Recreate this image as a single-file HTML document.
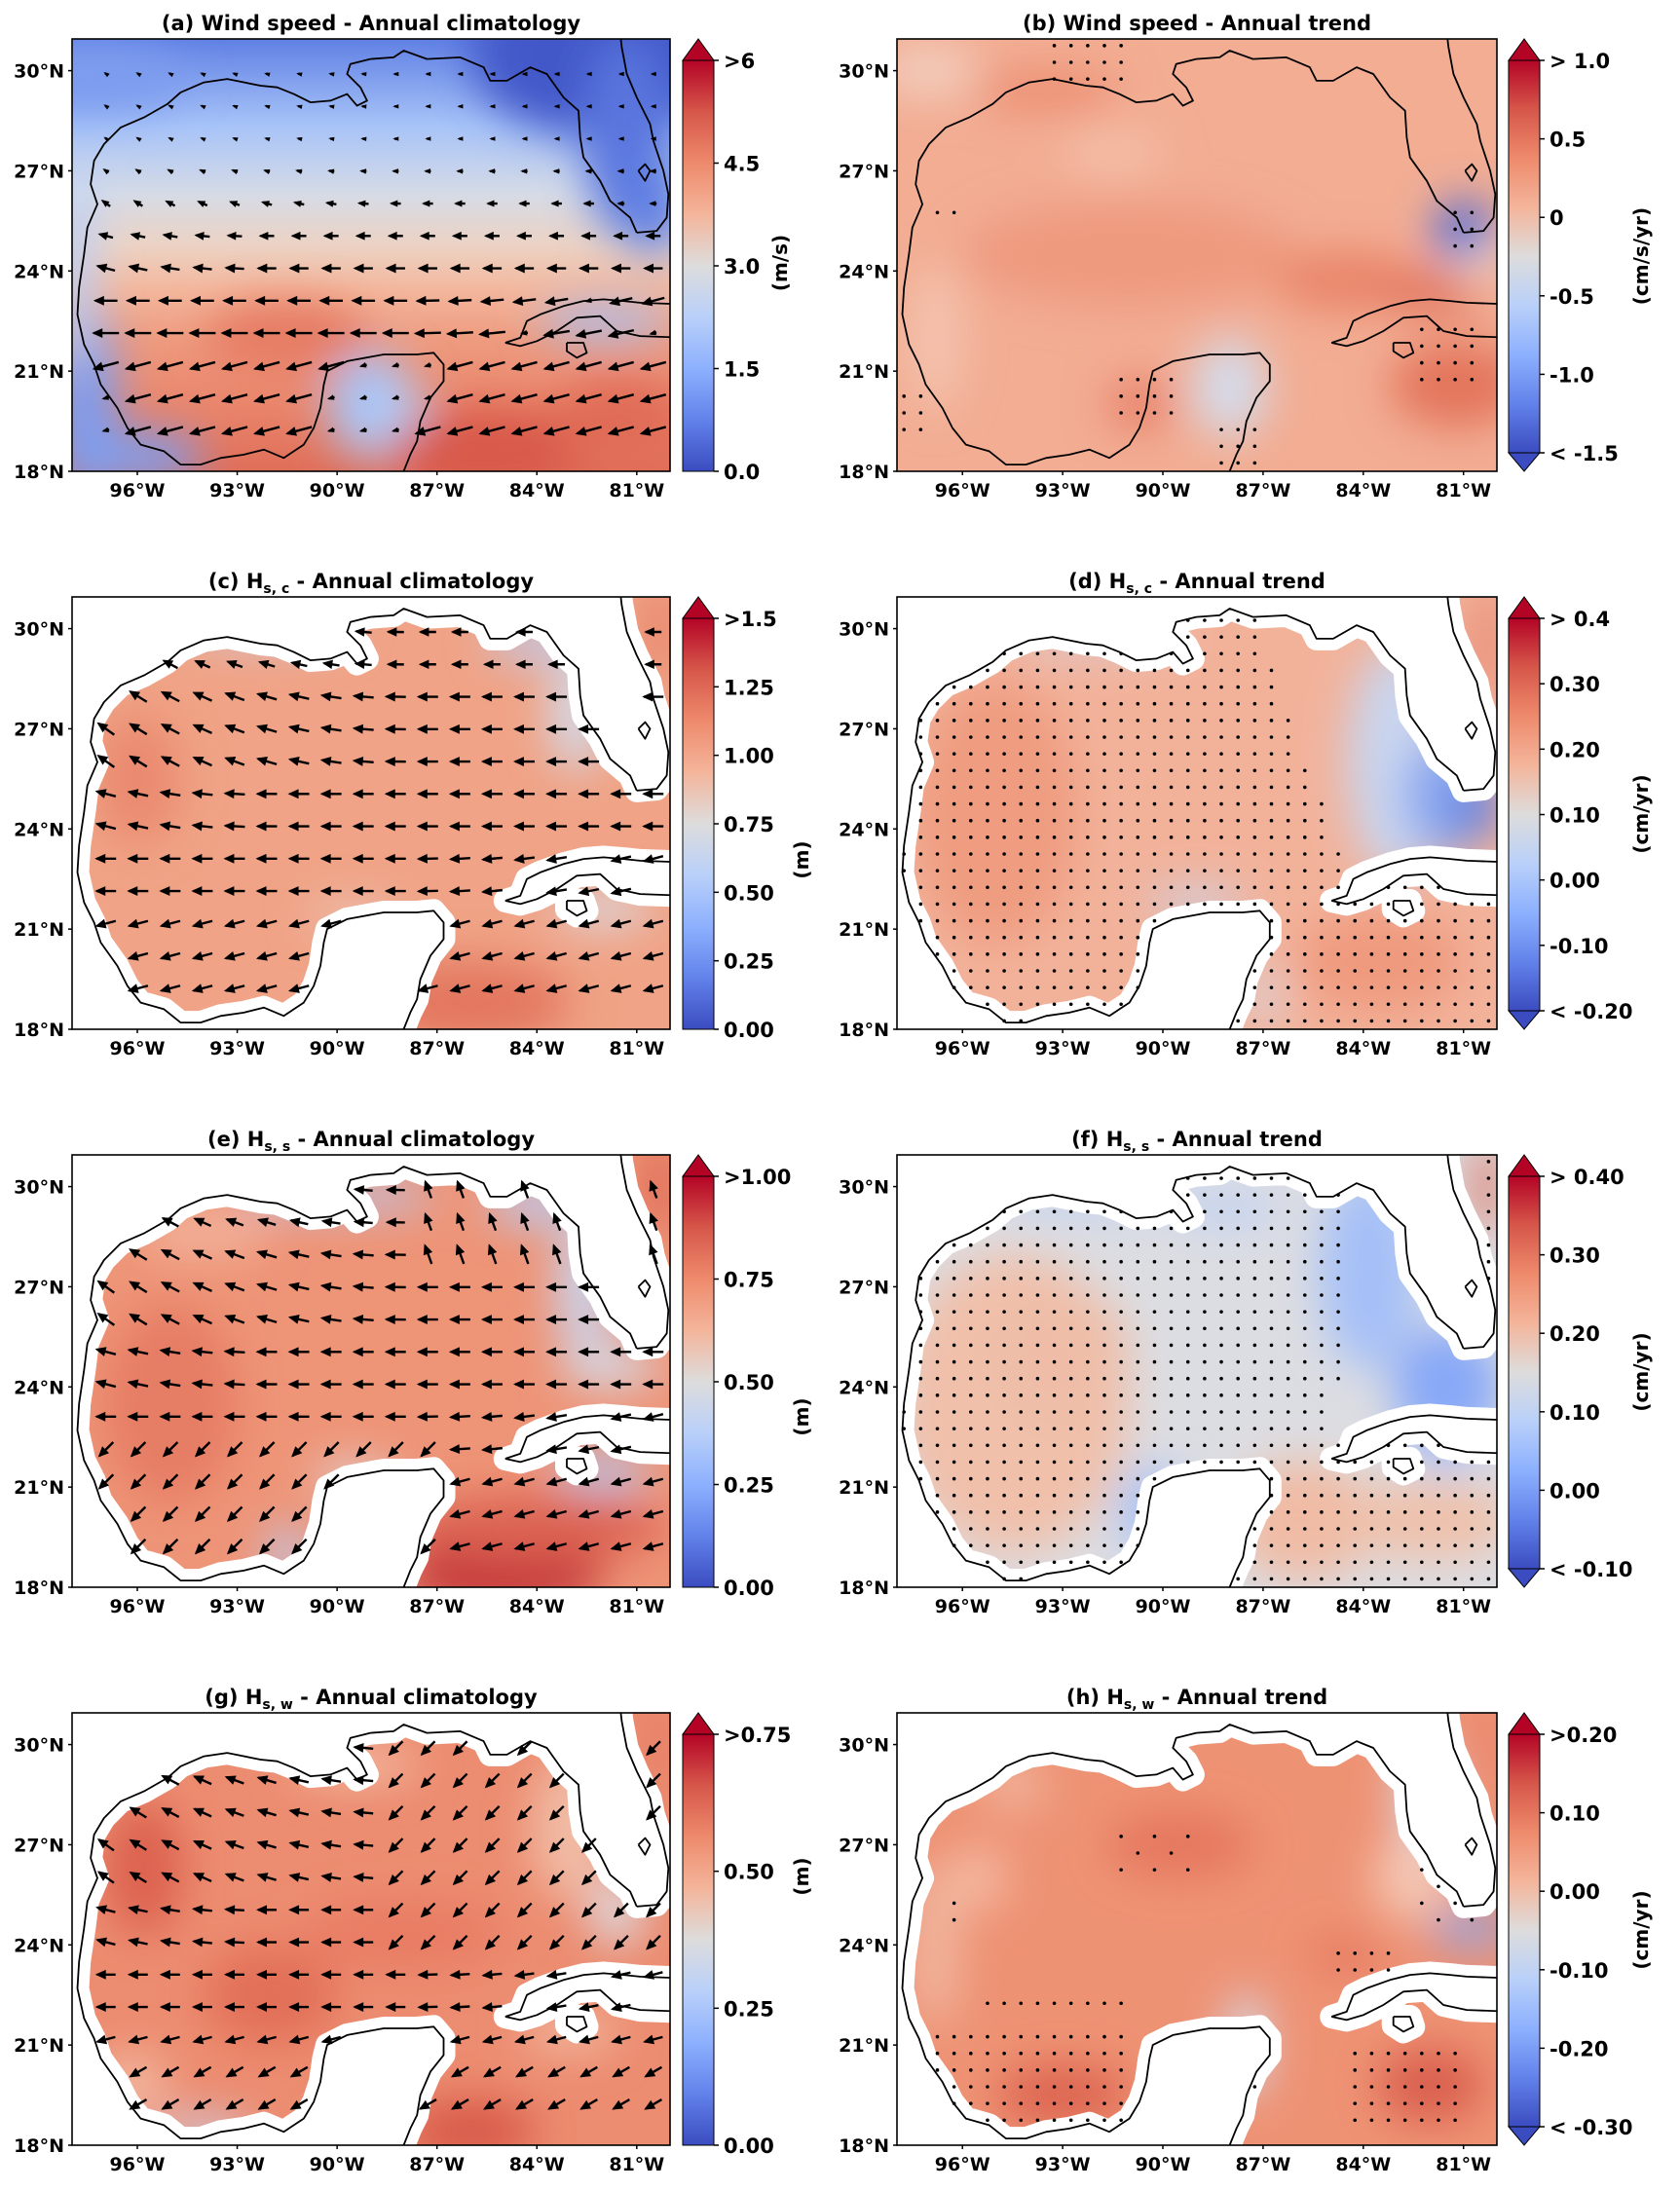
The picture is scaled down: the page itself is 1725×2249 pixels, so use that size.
<!DOCTYPE html>
<html><head><meta charset="utf-8"><style>
html,body{margin:0;padding:0;background:#fff}
svg text{font-family:"DejaVu Sans","Liberation Sans",sans-serif;font-weight:bold;fill:#000}
</style></head><body>
<svg id="s" xmlns="http://www.w3.org/2000/svg" width="1725" height="2244" viewBox="0 0 1725 2244">
<defs>
<filter id="bl" x="-20%" y="-20%" width="140%" height="140%"><feGaussianBlur stdDeviation="22"/></filter>
<linearGradient id="cw" x1="0" y1="0" x2="0" y2="1">
<stop offset="0" stop-color="#b40426"/><stop offset="0.125" stop-color="#d6574a"/><stop offset="0.25" stop-color="#ee8a6c"/><stop offset="0.375" stop-color="#f4b59b"/><stop offset="0.5" stop-color="#dddcdc"/><stop offset="0.625" stop-color="#b9d0f9"/><stop offset="0.75" stop-color="#8db0fe"/><stop offset="0.875" stop-color="#6282ea"/><stop offset="1" stop-color="#3b4cc0"/>
</linearGradient>
<linearGradient id="ga" x1="0" y1="0" x2="0" y2="1">
<stop offset="0" stop-color="#6080e4"/><stop offset="0.2" stop-color="#a7c3f8"/><stop offset="0.36" stop-color="#d6dbe6"/><stop offset="0.48" stop-color="#ecd2c3"/><stop offset="0.58" stop-color="#f3b79d"/><stop offset="0.7" stop-color="#ee9a7e"/><stop offset="0.85" stop-color="#e9856b"/><stop offset="1" stop-color="#e06e58"/>
</linearGradient>
</defs>
<g id="root"></g>
</svg>
<script>
var NS="http://www.w3.org/2000/svg";
var root=document.getElementById('root');
function el(t,a,p){var e=document.createElementNS(NS,t);for(var k in a)e.setAttribute(k,a[k]);(p||root).appendChild(e);return e;}
var LON0=-97.96,LON1=-80.0,LAT0=18,LAT1=30.95,H=444;
var MAIN=[[-81.0,25.15],[-81.2,25.6],[-81.8,26.1],[-82.1,26.7],[-82.6,27.4],[-82.7,28.0],[-82.75,28.8],[-83.2,29.2],[-83.7,29.9],[-84.2,30.1],[-84.9,29.7],[-85.4,29.7],[-85.6,30.1],[-86.3,30.4],[-87.3,30.35],[-88.0,30.6],[-88.3,30.4],[-89.0,30.35],[-89.6,30.2],[-89.7,29.9],[-89.3,29.5],[-89.1,29.1],[-89.4,28.95],[-89.7,29.3],[-90.2,29.1],[-90.8,29.05],[-91.3,29.3],[-91.8,29.5],[-92.3,29.55],[-93.3,29.75],[-94.0,29.65],[-94.7,29.35],[-95.1,29.0],[-95.8,28.6],[-96.5,28.3],[-97.0,27.8],[-97.3,27.3],[-97.4,26.6],[-97.2,26.0],[-97.5,25.3],[-97.6,24.5],[-97.75,23.5],[-97.8,22.7],[-97.6,21.8],[-97.3,21.2],[-97.1,20.6],[-96.6,19.9],[-96.3,19.3],[-95.9,18.8],[-95.2,18.6],[-94.7,18.2],[-94.1,18.2],[-93.5,18.4],[-92.8,18.5],[-92.2,18.65],[-91.6,18.4],[-91.3,18.6],[-91.0,18.8],[-90.7,19.3],[-90.5,19.9],[-90.4,20.6],[-90.3,21.0],[-89.7,21.3],[-88.6,21.5],[-87.6,21.5],[-87.1,21.55],[-86.8,21.2],[-86.8,20.7],[-87.2,20.2],[-87.5,19.5],[-87.6,18.9],[-87.8,18.5],[-88.0,18.0],[-88.2,17.5],[-99,17.5],[-99,32],[-81.6,32],[-81.45,30.7],[-81.3,29.9],[-81.0,29.2],[-80.6,28.4],[-80.5,27.9],[-80.2,27.0],[-80.05,26.3],[-80.1,25.6],[-80.4,25.2],[-81.0,25.15]];
var CUBA=[[-84.95,21.85],[-84.5,22.0],[-84.3,22.5],[-83.9,22.7],[-83.2,22.95],[-82.6,23.1],[-82.0,23.15],[-81.4,23.1],[-80.9,23.05],[-79.5,23.0],[-79.5,22.0],[-80.9,22.05],[-81.6,22.2],[-82.1,22.65],[-82.8,22.6],[-83.4,22.2],[-84.0,21.9],[-84.5,21.75],[-84.95,21.85]];
var YOUTH=[[-83.1,21.85],[-82.6,21.85],[-82.5,21.55],[-82.8,21.4],[-83.1,21.6],[-83.1,21.85]];
var OKEE=[[-80.95,27.0],[-80.75,27.2],[-80.6,27.0],[-80.75,26.7],[-80.95,27.0]];
function inPoly(p,x,y){var c=false;for(var i=0,j=p.length-1;i<p.length;j=i++){var xi=p[i][0],yi=p[i][1],xj=p[j][0],yj=p[j][1];if(((yi>y)!=(yj>y))&&(x<(xj-xi)*(y-yi)/(yj-yi)+xi))c=!c;}return c;}
function ocean(lo,la){return !inPoly(MAIN,lo,la)&&!inPoly(CUBA,lo,la)&&!inPoly(YOUTH,lo,la);}
function mk(x0,w,T){return function(lo,la){return [x0+(lo-LON0)/(LON1-LON0)*w,T+(LAT1-la)/(LAT1-LAT0)*H];};}
function pathOf(P,pts,close){var d='';pts.forEach(function(q,i){var r=P(q[0],q[1]);d+=(i?'L':'M')+r[0].toFixed(1)+','+r[1].toFixed(1);});return d+(close?'Z':'');}
var cid=0;
function panel(o){
  var x0=o.x0,w=o.w,T=o.T,P=mk(x0,w,T);cid++;
  var cp=el('clipPath',{id:'c'+cid});el('rect',{x:x0,y:T,width:w,height:H},cp);
  var g=el('g',{'clip-path':'url(#c'+cid+')'});
  el('rect',{x:x0,y:T,width:w,height:H,fill:o.base},g);
  var f=el('g',{filter:'url(#bl)'},g);
  o.blobs.forEach(function(b){var c=P(b[0],b[1]);var sx=w/(LON1-LON0),sy=H/(LAT1-LAT0);el('ellipse',{cx:c[0],cy:c[1],rx:b[2]*sx,ry:b[3]*sy,fill:b[4],'fill-opacity':b[5]||1},f);});
  if(o.mask){
    [MAIN,CUBA,YOUTH].forEach(function(p){el('path',{d:pathOf(P,p,true),fill:'#fff',stroke:'#fff','stroke-width':24,'stroke-linejoin':'round'},g);});
  }
  if(o.dot){for(var lo=-97.75;lo<-80.0;lo+=0.5)for(var la=18.25;la<30.9;la+=0.5){if(o.dot(lo,la)&&(!o.mask||ocean(lo,la))){var c=P(lo,la);el('circle',{cx:c[0],cy:c[1],r:1.8,fill:'#000'},g);}}}
  if(o.arrow){for(var i=0;i<18;i++)for(var j=0;j<12;j++){var lo=-96.93+i*0.967,la=29.9-j*0.97;var oc=ocean(lo,la);if(o.mask&&!oc)continue;var r=o.arrow(lo,la,oc);if(!r)continue;var c=P(lo,la);var L=r[0],a=r[1]*Math.PI/180;var dx=Math.cos(a)*L,dy=Math.sin(a)*L;
    var hx=c[0]+dx/2,hy=c[1]+dy/2,tx=c[0]-dx/2,ty=c[1]-dy/2;
    el('line',{x1:tx,y1:ty,x2:hx,y2:hy,stroke:'#000','stroke-width':2.4},g);
    var hl=Math.min(9,3+L*0.35),hw=hl*0.55;var ux=Math.cos(a),uy=Math.sin(a);
    el('polygon',{points:(hx+ux*2)+','+(hy+uy*2)+' '+(hx-ux*hl-uy*hw)+','+(hy-uy*hl+ux*hw)+' '+(hx-ux*hl+uy*hw)+','+(hy-uy*hl-ux*hw),fill:'#000'},g);}}
  [MAIN,CUBA,YOUTH,OKEE].forEach(function(p){el('path',{d:pathOf(P,p,false),fill:'none',stroke:'#000','stroke-width':1.8,'stroke-linejoin':'round'},g);});
  el('rect',{x:x0,y:T,width:w,height:H,fill:'none',stroke:'#000','stroke-width':1.6});
  [30,27,24,21,18].forEach(function(la){var c=P(LON0,la);var t=el('text',{x:x0-8,y:c[1]+7,'font-size':19,'text-anchor':'end'});t.textContent=la+'°N';el('line',{x1:x0-4,y1:c[1],x2:x0,y2:c[1],stroke:'#000','stroke-width':1.5});});
  [96,93,90,87,84,81].forEach(function(lo){var c=P(-lo,LAT0);var t=el('text',{x:c[0],y:T+H+26,'font-size':19,'text-anchor':'middle'});t.textContent=lo+'°W';el('line',{x1:c[0],y1:T+H,x2:c[0],y2:T+H+4,stroke:'#000','stroke-width':1.5});});
  var tt=el('text',{x:x0+w/2,y:T-9,'font-size':21,'text-anchor':'middle'});
  tt.appendChild(document.createTextNode(o.t1));
  if(o.sub){var s=el('tspan',{'font-size':14,dy:5},tt);s.textContent=o.sub;var r2=el('tspan',{dy:-5},tt);r2.textContent=o.t2;}
  var cx=o.cbx,cw=32,top=T+22,bot=o.both?T+425:T+H;
  el('rect',{x:cx,y:top,width:cw,height:bot-top,fill:'url(#cw)'});
  el('polygon',{points:cx+','+top+' '+(cx+cw/2)+','+T+' '+(cx+cw)+','+top,fill:'#b40426',stroke:'#000','stroke-width':1});
  if(o.both)el('polygon',{points:cx+','+bot+' '+(cx+cw/2)+','+(T+H)+' '+(cx+cw)+','+bot,fill:'#3b4cc0',stroke:'#000','stroke-width':1});
  el('rect',{x:cx,y:top,width:cw,height:bot-top,fill:'none',stroke:'#000','stroke-width':1});
  var n=o.labs.length-1;
  o.labs.forEach(function(l,k){var yy=top+(bot-top)*k/n;el('line',{x1:cx+cw,y1:yy,x2:cx+cw+5,y2:yy,stroke:'#000','stroke-width':1.5});var t=el('text',{x:cx+cw+10,y:yy+8,'font-size':21});t.textContent=l;});
  var ux2=o.ux,uy2=T+o.uy;var u=el('text',{x:ux2,y:uy2,'font-size':20,'text-anchor':'middle',transform:'rotate(-90 '+ux2+' '+uy2+')'});u.textContent=o.unit;
}
function clamp(v,a,b){return Math.max(a,Math.min(b,v));}
function dirW(lo,la){if(la>26)return 180+clamp((-88-lo)*4,0,38);if(la>23.5)return 180+clamp((-92-lo)*3,0,15);if(la>21.5)return 180-clamp((lo+88)*2,0,15);return 180-15;}
var L0=74,W0=614,R0=921,W1=616,Ts=[40,613,1186,1759];
var CL=701,CR=1549;
panel({x0:L0,w:W0,T:Ts[0],base:'url(#ga)',cbx:CL,both:false,labs:['>6','4.5','3.0','1.5','0.0'],unit:'(m/s)',ux:808,uy:230,t1:'(a) Wind speed - Annual climatology',
 blobs:[[-82,30.5,4,2.5,'#4358c9'],[-81.3,28,1.3,3,'#5a76de'],[-80.5,26,1,1.5,'#6080e4'],[-97.5,29.8,3,1,'#7d9cef'],[-89,20,1.3,1.6,'#a8c4f6'],[-88,19.3,0.8,1.3,'#b5cdf6'],[-97.6,20,1.0,3,'#7c9cf0'],[-97.9,24,0.6,3,'#b9cff8'],[-96,18.4,2,0.8,'#7e9ff0'],[-82,22.5,2,0.5,'#a3bff7'],[-85.5,18.6,3,1.2,'#d8584a'],[-91.5,22,2.5,1.1,'#e67c64'],[-81.5,19.5,2,1.3,'#e06c56']],
 arrow:function(lo,la,oc){var L=clamp(3+(27.5-la)*4.5,3,26);if(!oc)L=Math.min(L,6);if(la<21.5&&lo>-87)L=26;return [L,dirW(lo,la)];}});
panel({x0:R0,w:W1,T:Ts[0],base:'#f2ad93',cbx:CR,both:true,labs:['> 1.0','0.5','0','-0.5','-1.0','< -1.5'],unit:'(cm/s/yr)',ux:1692,uy:223,t1:'(b) Wind speed - Annual trend',
 blobs:[[-91,24.5,5,1.6,'#ee9a7f'],[-84.5,23.7,2.2,0.9,'#e98469'],[-82,23.3,1.5,0.5,'#de6a55'],[-81.2,20.6,2,1.3,'#e3745c'],[-81,25.2,0.9,0.9,'#4f6bd8'],[-80.4,24.3,0.8,0.3,'#f0e8e4'],[-88,20.5,1.1,1.5,'#d4dcec'],[-96.8,22,0.7,2.2,'#f4c6b2'],[-93.5,29.4,2.2,0.6,'#ec8c70'],[-97,30,1.5,0.8,'#f2cebe'],[-91.5,27.5,1.5,0.7,'#f4bea8'],[-90.7,20,1,0.8,'#e8806a']],
 dot:function(lo,la){function r(a,b,c,d){return lo>=a&&lo<=b&&la>=c&&la<=d;}return r(-93.6,-91.2,29.6,30.8)||r(-81.7,-80.3,24.7,26.2)||r(-91.6,-89.6,19.3,20.8)||r(-88.6,-87.1,18,19.3)||r(-82.6,-80.3,20.3,22.4)||(la==25.75&&(lo==-96.25||lo==-96.75))||r(-98,-97.2,19.1,20.3);}});
panel({x0:L0,w:W0,T:Ts[1],base:'#f0a386',mask:true,cbx:CL,both:false,labs:['>1.5','1.25','1.00','0.75','0.50','0.25','0.00'],unit:'(m)',ux:830,uy:270,t1:'(c) H',sub:'s, c',t2:'  - Annual climatology',
 blobs:[[-96,25.5,1.3,2,'#ea8a6f'],[-86,18.8,3,1.3,'#e3775f'],[-84,29.6,1.5,0.5,'#b9cef6'],[-82.8,27.5,0.8,1.8,'#d1dbec'],[-80.3,30,0.4,1.5,'#e47a62'],[-92,29.9,2.5,0.3,'#c3d3f2'],[-82,21.6,1.5,0.5,'#d9dde6'],[-89.5,21.4,1.5,0.3,'#e9d3c9']],
 arrow:function(lo,la){return [la>28.5?16:20,dirW(lo,la)];}});
panel({x0:R0,w:W1,T:Ts[1],base:'#f2b29a',mask:true,cbx:CR,both:true,labs:['> 0.4','0.30','0.20','0.10','0.00','-0.10','< -0.20'],unit:'(cm/yr)',ux:1692,uy:223,t1:'(d) H',sub:'s, c',t2:' - Annual trend',
 blobs:[[-95,24.5,2.5,4,'#ef9c80'],[-83.5,20,2.5,1.5,'#ef9a7e'],[-83,26,1.5,3.5,'#c9d5ef'],[-81.5,25,1.3,1.8,'#88a6ef'],[-80.6,24.6,0.7,0.8,'#5a78de'],[-89,21.8,1.5,0.4,'#c9d5ee'],[-87,19,0.4,1,'#d5dbe9'],[-80.3,29.5,0.4,1.8,'#e6806a'],[-92,29.7,2.5,0.3,'#cfd7ec']],
 dot:function(lo,la){if(la>22.6&&lo>-86.2+(27.5-la)*0.35&&la>23.6)return false;if(la>22.6&&la<=23.6&&lo>-84.5)return false;if(lo>-80.6&&la>25)return true;return lo<-80.2;}});
panel({x0:L0,w:W0,T:Ts[2],base:'#ee9477',mask:true,cbx:CL,both:false,labs:['>1.00','0.75','0.50','0.25','0.00'],unit:'(m)',ux:830,uy:269,t1:'(e) H',sub:'s, s',t2:'  - Annual climatology',
 blobs:[[-95,23.5,2,3,'#e67d65'],[-85,18.4,3,1.2,'#c5383a'],[-84,19.8,4,1,'#dc6352'],[-84,29.5,1.5,0.6,'#b9cdf6'],[-82.6,27,0.8,2.2,'#c8d6f1'],[-81.8,24.6,1.5,0.6,'#d4dbea'],[-89.5,21.3,1.3,0.4,'#dfdde1'],[-90,29.7,3,0.4,'#b5cbf7'],[-94,28.6,2,0.6,'#f3b7a0'],[-80.3,30,0.4,1.5,'#d85a4a'],[-82,21.5,1.4,0.5,'#b0c8f6'],[-91.5,19,0.6,0.8,'#b9cdf5']],
 arrow:function(lo,la){var a=dirW(lo,la);if(la<23&&lo<-87)a=180-45;if(la>27&&lo>-88)a=250;return [la>28.5?18:20,a];}});
panel({x0:R0,w:W1,T:Ts[2],base:'#dcdde2',mask:true,cbx:CR,both:true,labs:['> 0.40','0.30','0.20','0.10','0.00','< -0.10'],unit:'(cm/yr)',ux:1692,uy:223,t1:'(f) H',sub:'s, s',t2:' - Annual trend',
 blobs:[[-94.5,23.5,3.5,4.5,'#f0c0aa'],[-93,25,2,2,'#efbda7'],[-83.8,27.5,1.5,3,'#a5c0f8'],[-81.5,24,1.6,1.8,'#87a8f8'],[-85.8,20,2.2,1.8,'#f0bba4'],[-82,20,2.5,1.2,'#efc1ab'],[-90.3,20.3,1.0,1.3,'#a9c2f5'],[-92,29.7,3,0.4,'#bcd0f5'],[-80.3,30,0.4,1.5,'#df6c57'],[-88,29.3,1.5,0.5,'#c0d1f3'],[-81.5,22,1,0.5,'#b0c7f6']],
 dot:function(lo,la){if(la>22.7&&lo>-84.3&&!(lo>-80.6&&la>27))return false;if(la>22.7&&la<24&&lo>-84.8)return false;return lo<-80.2;}});
panel({x0:L0,w:W0,T:Ts[3],base:'#ec8c70',mask:true,cbx:CL,both:false,labs:['>0.75','0.50','0.25','0.00'],unit:'(m)',ux:830,uy:168,t1:'(g) H',sub:'s, w',t2:'  - Annual climatology',
 blobs:[[-95.8,26.3,1.2,2,'#dc6250'],[-92,22.5,2,1.5,'#e27059'],[-88,24.3,3,1,'#e87c64'],[-86,18.4,2,1,'#d85a4a'],[-83,27.5,1.2,2.2,'#f1bba5'],[-81.6,25,0.8,1,'#dcdde4'],[-83,21.4,1.5,0.6,'#f2b8a0'],[-80.3,30,0.4,1.5,'#e47a62'],[-96.2,19.8,1.2,1,'#f2b59d'],[-94,18.4,1.5,0.4,'#c9d5f0'],[-89.5,29.4,2,0.5,'#f4c0a9']],
 arrow:function(lo,la){var a=dirW(lo,la);if(lo>-89&&la>24)a=135;if(la<21)a=150;return [19,a];}});
panel({x0:R0,w:W1,T:Ts[3],base:'#ee9274',mask:true,cbx:CR,both:true,labs:['>0.20','0.10','0.00','-0.10','-0.20','< -0.30'],unit:'(cm/yr)',ux:1692,uy:223,t1:'(h) H',sub:'s, w',t2:' - Annual trend',
 blobs:[[-93,19.5,2,0.9,'#dc6450'],[-82,19.8,1.6,1.1,'#d95f4d'],[-89.5,27,2.2,1.0,'#e5775f'],[-84.5,23.7,1.2,0.5,'#e5775f'],[-87.5,21,0.6,1.6,'#d4dbeb'],[-80.8,24.5,1.2,0.5,'#87a6ef'],[-82.5,26,1.2,1.3,'#f4c6b3'],[-96.8,24,0.7,2.5,'#f1b8a1'],[-82.2,28.5,0.8,1.6,'#d9dde8'],[-80.3,30,0.4,1.5,'#e8846c'],[-94.5,28.8,1,0.8,'#f1b39b'],[-95.5,26,0.8,1,'#f4b9a2']],
 dot:function(lo,la){function r(a,b,c,d){return lo>=a&&lo<=b&&la>=c&&la<=d;}return r(-97,-91.2,18.3,21.6)||r(-95.4,-91.2,21.9,22.4)||r(-93.5,-92.5,27.9,28.1)||r(-91.3,-89.2,26.2,27.4)&&((lo+la)*2%2==0)||r(-84.5,-81.2,18.3,21.2)||r(-85,-83,23.2,24.1)||r(-82.7,-80.4,24.3,26.5)&&((lo*2+la*2)%2==0)||r(-90,-87.5,21.4,21.6)||r(-87.5,-87.0,19.3,21.2)||r(-96.5,-96.2,24.5,25.3);}});
</script>
</body></html>
